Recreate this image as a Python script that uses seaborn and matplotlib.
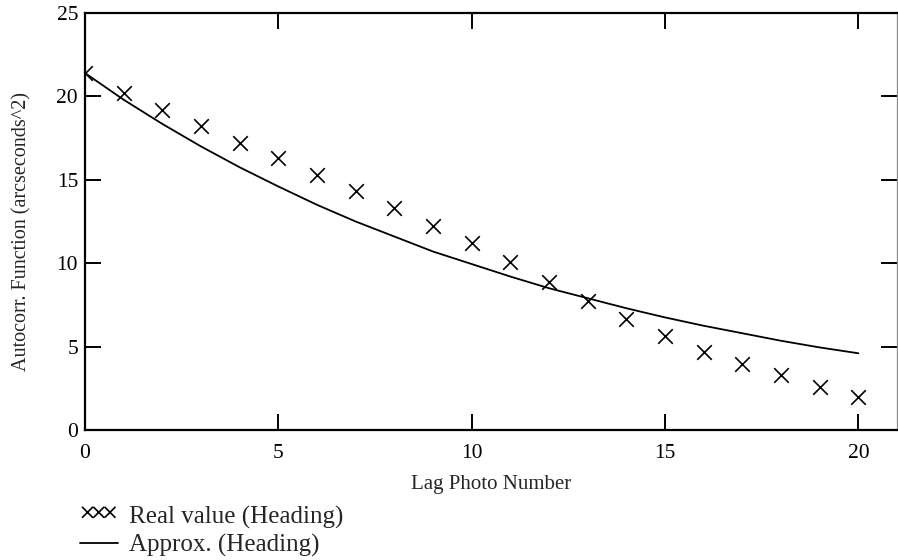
import matplotlib
matplotlib.use("Agg")
import matplotlib.pyplot as plt
import numpy as np
import pandas as pd
import seaborn as sns

# Dados
lag = list(range(0, 21))
real_value = [21.4, 20.2, 19.2, 18.2, 17.2, 16.3, 15.3, 14.3, 13.3, 12.25,
              11.2, 10.1, 8.85, 7.75, 6.65, 5.65, 4.65, 3.95, 3.3, 2.6, 1.95]
approx = [21.4, 19.8, 18.35, 17.0, 15.75, 14.6, 13.5, 12.5, 11.6, 10.7,
          9.95, 9.2, 8.5, 7.9, 7.3, 6.75, 6.25, 5.8, 5.35, 4.95, 4.6]

dados = pd.DataFrame({"Lag": lag, "Real": real_value, "Approx": approx})

sns.set_theme(style="ticks")
plt.rcParams["font.family"] = ["Liberation Serif", "DejaVu Serif"]

fig = plt.figure(figsize=(8.98, 5.6), dpi=100)
ax = fig.add_axes([85 / 898, 1 - 430 / 560, 812 / 898, 417 / 560])

sns.scatterplot(data=dados, x="Lag", y="Real", marker="x", s=110, color="black",
                linewidth=1.2, ax=ax, label="Real value (Heading)")
sns.lineplot(data=dados, x="Lag", y="Approx", color="black", linewidth=1.3,
             ax=ax, label="Approx. (Heading)")

ax.set_xlim(0, 21)
ax.set_ylim(0, 25)
ax.set_xticks([0, 5, 10, 15, 20])
ax.set_yticks([0, 5, 10, 15, 20, 25])
ax.tick_params(direction="in", length=11.5, width=1.4, top=True, right=True,
               labelsize=15.5, colors="black")
ax.tick_params(axis="x", pad=10)
ax.tick_params(axis="y", pad=5)
for lado in ["left", "bottom", "top"]:
    ax.spines[lado].set_linewidth(1.6)
    ax.spines[lado].set_color("black")
ax.spines["right"].set_linewidth(0.9)
ax.spines["right"].set_color("#888888")

ax.set_xlabel("Lag Photo Number", fontsize=15, labelpad=9)
ax.set_ylabel("Autocorr. Function (arcseconds^2)", fontsize=14.5)
ax.yaxis.set_label_coords(-54 / 812, 0.475)

handles, labels = ax.get_legend_handles_labels()
leg = ax.legend(handles, labels, loc="upper left", bbox_to_anchor=(80 / 898, 1 - 506 / 560),
                bbox_transform=fig.transFigure, frameon=False, fontsize=18,
                scatterpoints=3, scatteryoffsets=[0.65], markerscale=0.75,
                handlelength=1.5, handletextpad=0.45, labelspacing=0.2,
                borderpad=0, borderaxespad=0)

fig.savefig("out.png", dpi=100)
